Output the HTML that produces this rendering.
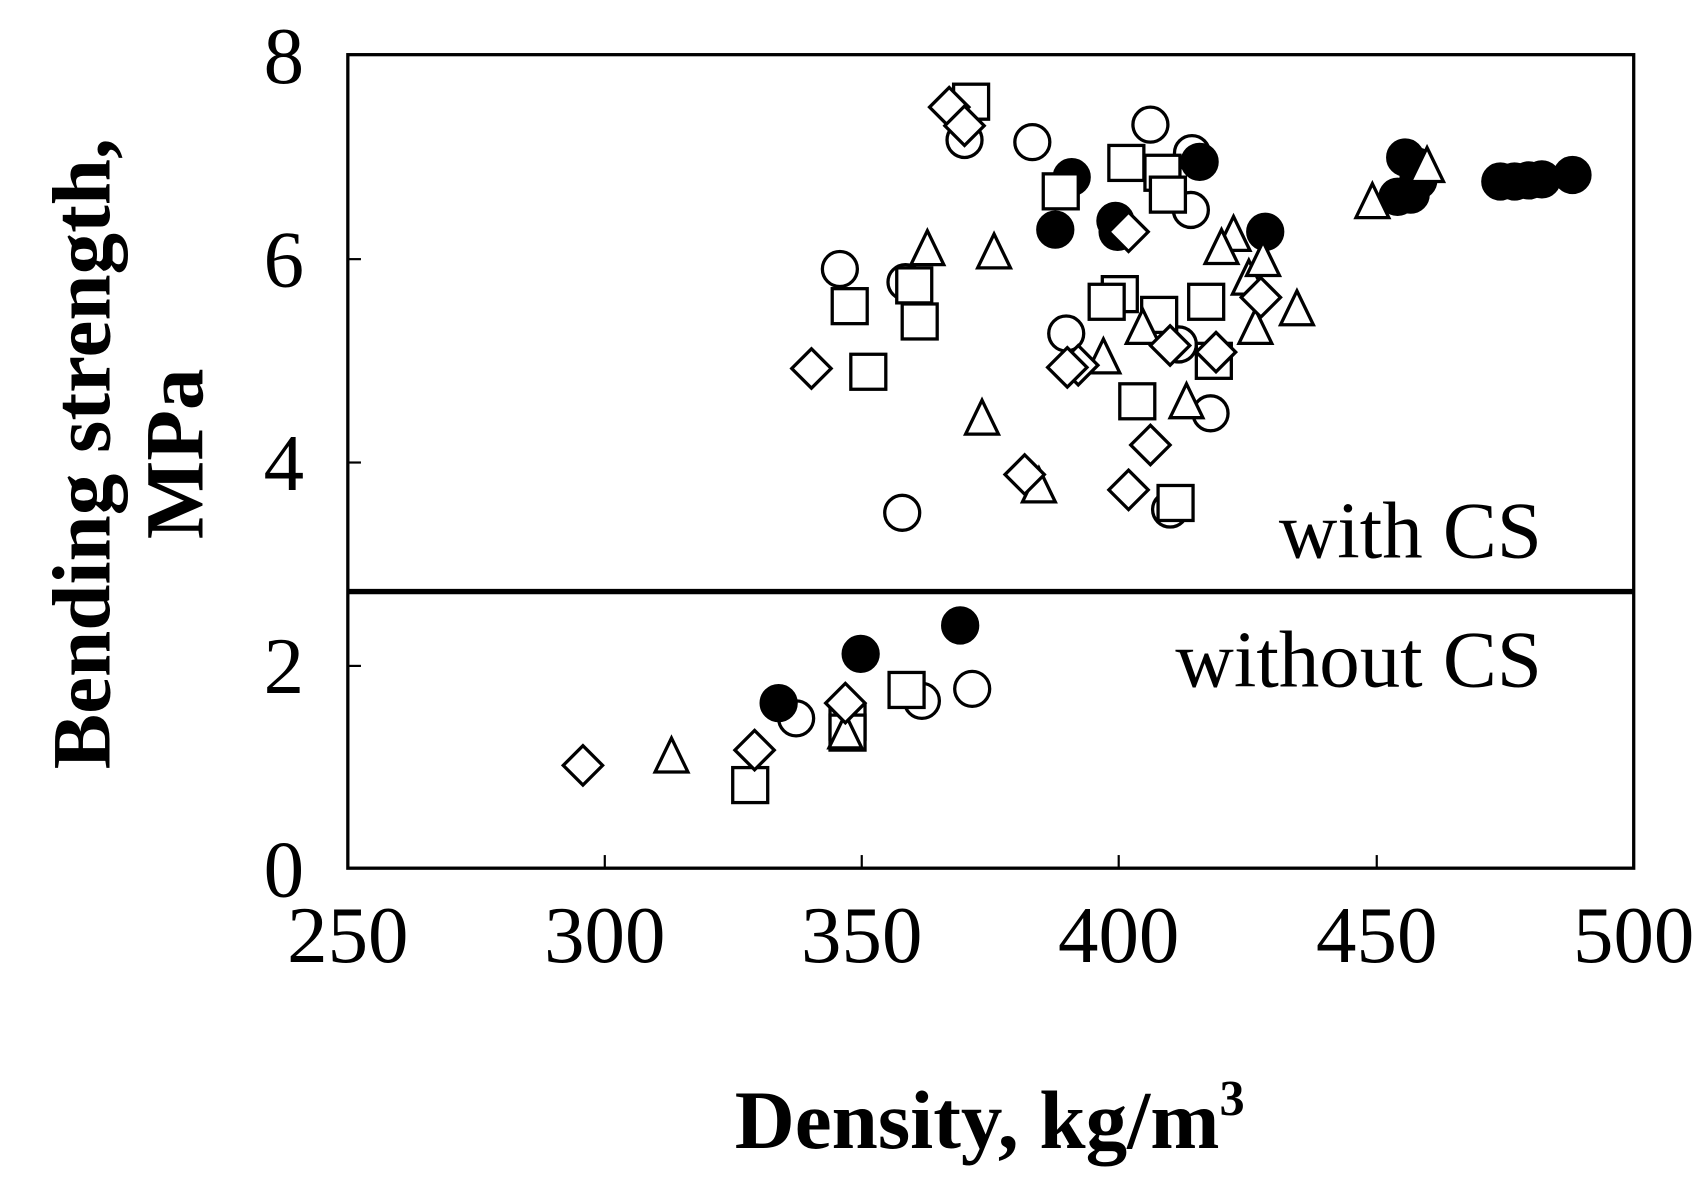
<!DOCTYPE html>
<html><head><meta charset="utf-8"><style>
html,body{margin:0;padding:0;background:#fff;}
svg{display:block;}
text{font-family:"Liberation Serif",serif;fill:#000;}
</style></head><body>
<svg width="1706" height="1182" viewBox="0 0 1560 1081" xmlns="http://www.w3.org/2000/svg">
<defs>
<circle id="c" r="16" fill="#fff" stroke="#000" stroke-width="3"/>
<circle id="f" r="16" fill="#000" stroke="#000" stroke-width="3"/>
<rect id="s" x="-16" y="-16" width="32" height="32" fill="#fff" stroke="#000" stroke-width="3"/>
<polygon id="t" points="0,-19 15,12 -15,12" fill="#fff" stroke="#000" stroke-width="3"/>
<polygon id="d" points="0,-18 18,0 0,18 -18,0" fill="#fff" stroke="#000" stroke-width="3"/>
</defs>
<rect x="318" y="50" width="1176" height="744" fill="none" stroke="#000" stroke-width="3"/>
<line x1="318" y1="541" x2="1494" y2="541" stroke="#000" stroke-width="5"/>
<g stroke="#000" stroke-width="2">
<line x1="318" y1="237" x2="330" y2="237"/><line x1="318" y1="423" x2="330" y2="423"/><line x1="318" y1="609" x2="330" y2="609"/>
<line x1="553" y1="794" x2="553" y2="782"/><line x1="788" y1="794" x2="788" y2="782"/><line x1="1023" y1="794" x2="1023" y2="782"/><line x1="1259" y1="794" x2="1259" y2="782"/>
</g>
<g font-size="74" text-anchor="end">
<text x="278" y="76">8</text><text x="278" y="262">6</text><text x="278" y="448">4</text><text x="278" y="634">2</text><text x="278" y="820">0</text>
</g>
<g font-size="74" text-anchor="middle">
<text x="318" y="880">250</text><text x="553" y="880">300</text><text x="788" y="880">350</text><text x="1023" y="880">400</text><text x="1259" y="880">450</text><text x="1494" y="880">500</text>
</g>
<text x="905" y="1050" font-size="76" font-weight="bold" text-anchor="middle">Density, kg/m<tspan font-size="46" dy="-30">3</tspan></text>
<g transform="translate(100,415) rotate(-90)"><text font-size="76" font-weight="bold" text-anchor="middle">Bending strength,</text></g>
<g transform="translate(185,415) rotate(-90)"><text font-size="76" font-weight="bold" text-anchor="middle">MPa</text></g>
<text x="1410" y="510" font-size="74" text-anchor="end">with CS</text>
<text x="1410" y="628" font-size="74" text-anchor="end">without CS</text>
<g>
<use href="#c" x="882" y="128"/><use href="#c" x="944" y="130"/><use href="#c" x="1052" y="114"/><use href="#c" x="1090" y="140"/><use href="#c" x="1089" y="192"/><use href="#c" x="768" y="246"/><use href="#c" x="828" y="258"/><use href="#c" x="975" y="305"/><use href="#c" x="1078" y="315"/><use href="#c" x="1107" y="378"/><use href="#c" x="825" y="469"/><use href="#c" x="1070" y="466"/><use href="#c" x="728" y="657"/><use href="#c" x="843" y="641"/><use href="#c" x="889" y="630"/>
<use href="#f" x="980" y="162"/><use href="#f" x="965" y="210"/><use href="#f" x="1020" y="202"/><use href="#f" x="1022" y="212"/><use href="#f" x="1097" y="148"/><use href="#f" x="1157" y="212"/><use href="#f" x="1285" y="144"/><use href="#f" x="1295" y="152"/><use href="#f" x="1297" y="165"/><use href="#f" x="1290" y="178"/><use href="#f" x="1278" y="180"/><use href="#f" x="1372" y="166"/><use href="#f" x="1385" y="166"/><use href="#f" x="1398" y="165"/><use href="#f" x="1410" y="164"/><use href="#f" x="1438" y="160"/><use href="#f" x="712" y="643"/><use href="#f" x="787" y="598"/><use href="#f" x="878" y="572"/>
<use href="#s" x="888" y="93"/><use href="#s" x="970" y="175"/><use href="#s" x="1030" y="149"/><use href="#s" x="1063" y="158"/><use href="#s" x="1068" y="178"/><use href="#s" x="777" y="280"/><use href="#s" x="836" y="261"/><use href="#s" x="841" y="294"/><use href="#s" x="794" y="340"/><use href="#s" x="1024" y="269"/><use href="#s" x="1012" y="276"/><use href="#s" x="1060" y="288"/><use href="#s" x="1103" y="276"/><use href="#s" x="1110" y="330"/><use href="#s" x="1040" y="367"/><use href="#s" x="1075" y="460"/><use href="#s" x="829" y="631"/><use href="#s" x="775" y="660"/><use href="#s" x="775" y="670"/><use href="#s" x="686" y="718"/>
<use href="#t" x="848" y="230"/><use href="#t" x="909" y="233"/><use href="#t" x="898" y="385"/><use href="#t" x="950" y="447"/><use href="#t" x="1255" y="187"/><use href="#t" x="1305" y="154"/><use href="#t" x="1128" y="217"/><use href="#t" x="1117" y="229"/><use href="#t" x="1142" y="257"/><use href="#t" x="1155" y="240"/><use href="#t" x="1148" y="302"/><use href="#t" x="1186" y="285"/><use href="#t" x="1045" y="302"/><use href="#t" x="1009" y="329"/><use href="#t" x="1085" y="370"/><use href="#t" x="614" y="694"/><use href="#t" x="773" y="672"/>
<use href="#d" x="868" y="98"/><use href="#d" x="882" y="115"/><use href="#d" x="742" y="337"/><use href="#d" x="986" y="334"/><use href="#d" x="976" y="336"/><use href="#d" x="1070" y="316"/><use href="#d" x="1112" y="322"/><use href="#d" x="1153" y="272"/><use href="#d" x="1032" y="212"/><use href="#d" x="1052" y="407"/><use href="#d" x="937" y="434"/><use href="#d" x="1032" y="448"/><use href="#d" x="533" y="700"/><use href="#d" x="690" y="686"/><use href="#d" x="773" y="643"/>
</g>
</svg>
</body></html>
